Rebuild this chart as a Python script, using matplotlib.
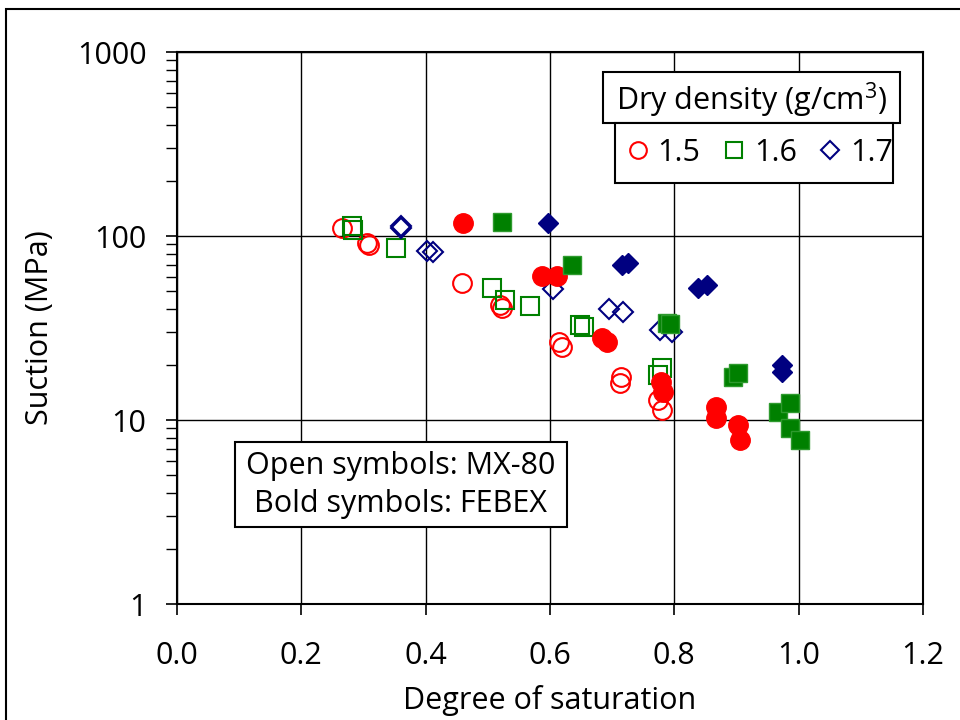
import matplotlib
matplotlib.use("Agg")
import matplotlib.pyplot as plt
from matplotlib.patches import Rectangle
from matplotlib.lines import Line2D
from matplotlib.ticker import FixedLocator, FixedFormatter, LogLocator, NullFormatter

plt.rcParams['font.family'] = ['Open Sans', 'DejaVu Sans']
plt.rcParams['mathtext.fontset'] = 'custom'
plt.rcParams['mathtext.rm'] = 'Open Sans'

# MX-80 (open symbols)
mx_15_x = [0.265, 0.305, 0.309, 0.458, 0.520, 0.523, 0.615, 0.619, 0.715, 0.713, 0.774, 0.780]
mx_15_y = [110, 91.6, 89.3, 55.6, 42.2, 40.6, 26.5, 25.0, 17.1, 15.9, 12.8, 11.3]
mx_16_x = [0.281, 0.283, 0.352, 0.507, 0.528, 0.568, 0.648, 0.655, 0.780, 0.774]
mx_16_y = [113, 108, 86, 52.2, 44.9, 41.7, 32.8, 32.0, 19.2, 17.6]
mx_17_x = [0.360, 0.360, 0.402, 0.412, 0.605, 0.695, 0.717, 0.777, 0.796]
mx_17_y = [114, 110, 82.8, 81.8, 51.5, 40.1, 38.6, 30.8, 30.2]

# FEBEX (bold symbols)
fe_15_x = [0.460, 0.587, 0.611, 0.683, 0.692, 0.779, 0.782, 0.867, 0.867, 0.902, 0.905]
fe_15_y = [118, 60.6, 60.6, 27.9, 26.5, 16.0, 14.2, 11.8, 10.3, 9.4, 7.8]
fe_16_x = [0.523, 0.636, 0.788, 0.793, 0.894, 0.902, 0.967, 0.986, 0.986, 1.002]
fe_16_y = [119, 69.5, 33.7, 33.3, 17.1, 18.0, 11.0, 12.4, 9.05, 7.8]
fe_17_x = [0.597, 0.716, 0.726, 0.838, 0.852, 0.973, 0.973]
fe_17_y = [118, 69.5, 71, 52, 54, 19.9, 18.2]

x_ticks = [0.0, 0.2, 0.4, 0.6, 0.8, 1.0, 1.2]
x_tick_labels = ["0.0", "0.2", "0.4", "0.6", "0.8", "1.0", "1.2"]
y_ticks = [1, 10, 100, 1000]
y_tick_labels = ["1", "10", "100", "1000"]
legend_labels = ["1.5", "1.6", "1.7"]

RED = "#FF0000"
GREEN = "#008000"
NAVY = "#000080"

W, H = 960, 720
fig = plt.figure(figsize=(9.6, 7.2), dpi=100)
ax = fig.add_axes([177 / W, 1 - 604 / H, (923 - 177) / W, (604 - 52) / H])

FS = 22

# open symbols
ax.plot(mx_15_x, mx_15_y, 'o', ms=13.5, mfc='none', mec=RED, mew=1.5, ls='none', zorder=3)
ax.plot(mx_16_x, mx_16_y, 's', ms=13, mfc='none', mec=GREEN, mew=1.5, ls='none', zorder=3)
ax.plot(mx_17_x, mx_17_y, 'D', ms=10.5, mfc='none', mec=NAVY, mew=1.5, ls='none', zorder=3)
# filled symbols
ax.plot(fe_15_x, fe_15_y, 'o', ms=14, mfc=RED, mec=RED, mew=1, ls='none', zorder=4)
ax.plot(fe_16_x, fe_16_y, 's', ms=13, mfc=GREEN, mec='#2E9A2E', mew=1, ls='none', zorder=4)
ax.plot(fe_17_x, fe_17_y, 'D', ms=10, mfc=NAVY, mec=NAVY, mew=1, ls='none', zorder=4)

ax.set_yscale('log')
ax.set_xlim(0, 1.2)
ax.set_ylim(1, 1000)
ax.xaxis.set_major_locator(FixedLocator(x_ticks))
ax.xaxis.set_major_formatter(FixedFormatter(x_tick_labels))
ax.yaxis.set_major_locator(FixedLocator(y_ticks))
ax.yaxis.set_major_formatter(FixedFormatter(y_tick_labels))
ax.yaxis.set_minor_locator(LogLocator(base=10, subs=range(2, 10)))
ax.yaxis.set_minor_formatter(NullFormatter())

ax.grid(True, which='major', color='black', lw=1.0, zorder=1)
ax.set_axisbelow(True)
for s in ax.spines.values():
    s.set_linewidth(1.5)
    s.set_color('black')
ax.tick_params(axis='x', which='major', direction='out', length=8, width=1.2, pad=19, labelsize=FS)
ax.tick_params(axis='y', which='major', direction='out', length=8, width=1.2, pad=14, labelsize=FS)
ax.tick_params(axis='y', which='minor', direction='out', length=8, width=1.0)

ax.set_xlabel("Degree of saturation", fontsize=FS, labelpad=10)
ax.set_ylabel("Suction (MPa)", fontsize=FS, labelpad=16)

# Figure border (cropped on right/bottom)
fig.patches.append(Rectangle((6 / W, -0.2), 1.2, 1 - 9 / H + 0.2, transform=fig.transFigure,
                             fill=False, ec='black', lw=1.5, zorder=10))

# Legend boxes
def pbox(x0, y0, x1, y1):
    r = Rectangle((x0 / W, 1 - y1 / H), (x1 - x0) / W, (y1 - y0) / H, transform=fig.transFigure,
                  fc='white', ec='black', lw=1.5, zorder=5)
    fig.patches.append(r)

pbox(603, 72, 900, 123)
pbox(615, 123, 893, 183)
fig.text((603 + 900) / 2 / W, 1 - 100 / H, "Dry density (g/cm$^3$)", ha='center', va='center',
         fontsize=FS, zorder=6)

handles = [
    Line2D([], [], marker='o', ms=12, mfc='none', mec=RED, mew=1.5, ls='none'),
    Line2D([], [], marker='s', ms=11.5, mfc='none', mec=GREEN, mew=1.5, ls='none'),
    Line2D([], [], marker='D', ms=9.5, mfc='none', mec=NAVY, mew=1.5, ls='none'),
]
leg = fig.legend(handles, legend_labels, loc='center', bbox_to_anchor=(760 / W, 1 - 153 / H),
                 ncol=3, frameon=False, fontsize=FS, handlelength=0.7, handletextpad=0.3,
                 columnspacing=0.75, borderpad=0)
leg.set_zorder(7)

# Annotation box
pbox(235, 442, 567, 527)
fig.text(401 / W, 1 - 466 / H, "Open symbols: MX-80", ha='center', va='center', fontsize=FS, zorder=6)
fig.text(401 / W, 1 - 504 / H, "Bold symbols: FEBEX", ha='center', va='center', fontsize=FS, zorder=6)

fig.savefig("out.png", dpi=100)
